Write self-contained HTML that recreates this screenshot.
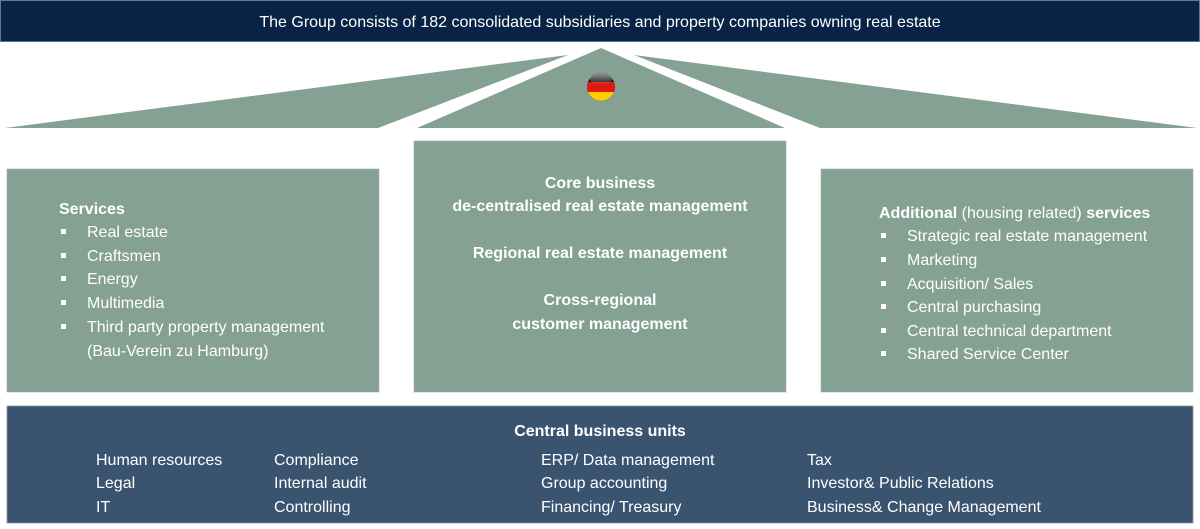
<!DOCTYPE html>
<html>
<head>
<meta charset="utf-8">
<style>
html,body{margin:0;padding:0;background:#fff;}
body{width:1200px;height:529px;overflow:hidden;}
svg{display:block;}
text{font-family:"Liberation Sans",Arial,sans-serif;font-size:16px;fill:#fff;}
.b{font-weight:bold;}
</style>
</head>
<body>
<svg width="1200" height="529" viewBox="0 0 1200 529" xmlns="http://www.w3.org/2000/svg">
  <defs>
    <clipPath id="fc"><circle cx="601" cy="87" r="14"/></clipPath>
    <linearGradient id="gl" x1="0" y1="0" x2="0" y2="1">
      <stop offset="0" stop-color="#fff" stop-opacity="0.55"/>
      <stop offset="1" stop-color="#fff" stop-opacity="0"/>
    </linearGradient>
  </defs>

  <!-- top bar -->
  <rect x="0.5" y="0.5" width="1199" height="41" fill="#082345" stroke="#62779a" stroke-width="1"/>
  <text x="600" y="27" text-anchor="middle">The Group consists of 182 consolidated subsidiaries and property companies owning real estate</text>

  <!-- roof -->
  <polygon points="5,128 568,55 378,128" fill="#84a194"/>
  <polygon points="417,128 601,48 785,128" fill="#84a194"/>
  <polygon points="820,128 634,55 1197,128" fill="#84a194"/>

  <!-- flag -->
  <g clip-path="url(#fc)">
    <rect x="585" y="72" width="32" height="10" fill="#1a1a1a"/>
    <rect x="585" y="82" width="32" height="10" fill="#dd1a10"/>
    <rect x="585" y="92" width="32" height="11" fill="#ffcc00"/>
    <ellipse cx="601" cy="79" rx="11" ry="6" fill="url(#gl)"/>
  </g>
  <circle cx="601" cy="87" r="14" fill="none" stroke="#6b6b6b" stroke-opacity="0.35" stroke-width="0.8"/>

  <!-- boxes -->
  <rect x="7" y="169" width="372" height="223" fill="#84a194" stroke="#9ab3a8" stroke-width="0.6"/>
  <rect x="414" y="141" width="372" height="251" fill="#84a194" stroke="#9ab3a8" stroke-width="0.6"/>
  <rect x="821" y="169" width="372" height="223" fill="#84a194" stroke="#9ab3a8" stroke-width="0.6"/>

  <!-- left box text -->
  <text class="b" x="59" y="214">Services</text>
  <g fill="#fff">
    <rect x="61" y="229" width="5" height="5"/>
    <rect x="61" y="253" width="5" height="5"/>
    <rect x="61" y="276" width="5" height="5"/>
    <rect x="61" y="300" width="5" height="5"/>
    <rect x="61" y="324" width="5" height="5"/>
  </g>
  <text x="87" y="237">Real estate</text>
  <text x="87" y="261">Craftsmen</text>
  <text x="87" y="284">Energy</text>
  <text x="87" y="308">Multimedia</text>
  <text x="87" y="332">Third party property management</text>
  <text x="87" y="356">(Bau-Verein zu Hamburg)</text>

  <!-- center box text -->
  <text class="b" x="600" y="188" text-anchor="middle">Core business</text>
  <text class="b" x="600" y="211" text-anchor="middle">de-centralised real estate management</text>
  <text class="b" x="600" y="258" text-anchor="middle">Regional real estate management</text>
  <text class="b" x="600" y="305" text-anchor="middle">Cross-regional</text>
  <text class="b" x="600" y="329" text-anchor="middle">customer management</text>

  <!-- right box text -->
  <text x="879" y="218"><tspan class="b">Additional</tspan> (housing related) <tspan class="b">services</tspan></text>
  <g fill="#fff">
    <rect x="881" y="233" width="5" height="5"/>
    <rect x="881" y="257" width="5" height="5"/>
    <rect x="881" y="281" width="5" height="5"/>
    <rect x="881" y="304" width="5" height="5"/>
    <rect x="881" y="328" width="5" height="5"/>
    <rect x="881" y="351" width="5" height="5"/>
  </g>
  <text x="907" y="241">Strategic real estate management</text>
  <text x="907" y="265">Marketing</text>
  <text x="907" y="289">Acquisition/ Sales</text>
  <text x="907" y="312">Central purchasing</text>
  <text x="907" y="336">Central technical department</text>
  <text x="907" y="359">Shared Service Center</text>

  <!-- bottom band -->
  <rect x="7" y="406" width="1186" height="117" fill="#3a5470" stroke="#8798ab" stroke-width="0.8"/>
  <text class="b" x="600" y="436" text-anchor="middle">Central business units</text>

  <text x="96" y="465">Human resources</text>
  <text x="96" y="488">Legal</text>
  <text x="96" y="512">IT</text>

  <text x="274" y="465">Compliance</text>
  <text x="274" y="488">Internal audit</text>
  <text x="274" y="512">Controlling</text>

  <text x="541" y="465">ERP/ Data management</text>
  <text x="541" y="488">Group accounting</text>
  <text x="541" y="512">Financing/ Treasury</text>

  <text x="807" y="465">Tax</text>
  <text x="807" y="488">Investor&amp; Public Relations</text>
  <text x="807" y="512">Business&amp; Change Management</text>
</svg>
</body>
</html>
